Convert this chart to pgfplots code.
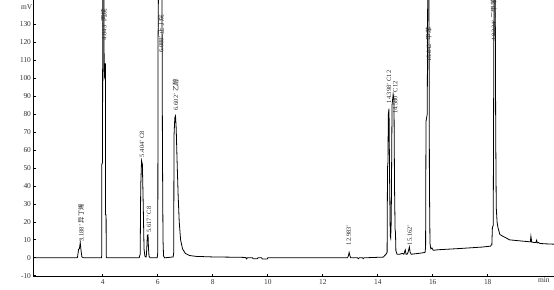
\documentclass[border=0pt]{standalone}
\usepackage{pgfplots}
\pgfplotsset{compat=1.18}
\usepackage{fontspec}
\setmainfont{Liberation Serif}
\newfontfamily\cjk{Noto Sans CJK SC}
\newcommand{\pk}[3]{\node[rotate=90,anchor=west,font=\fontsize{6.5}{7}\selectfont,text=black!85,inner sep=0pt] at (axis cs:#1,#2) {#3};}
\begin{document}
\begin{tikzpicture}
\useasboundingbox (-33.5bp,-13.3bp) rectangle (520.5bp,276.7bp);
\begin{axis}[
  at={(0,0)}, anchor=south west,
  scale only axis, width=520.5bp, height=276.7bp,
  xmin=1.48, xmax=20.41, ymin=-10.5, ymax=143.5,
  axis x line=bottom, axis y line=left,
  axis line style={-, line width=1pt},
  tick align=inside, major tick length=3bp,
  tick style={line width=0.8pt, black},
  xtick={4,6,...,18}, ytick={-10,0,...,130},
  /pgf/number format/assume math mode=true,
  ticklabel style={font=\fontsize{7.5}{8}\selectfont, text=black!80},
  xticklabel style={yshift=1bp},
  yticklabel style={xshift=1bp},
  clip mode=individual,
]
\addplot[black, line width=0.8pt] coordinates {
(1.48,0) (3.05,0) (3.08,0.3) (3.12,4.8) (3.15,5) (3.18,8.5) (3.21,4) (3.24,0.5) (3.3,0)
(3.95,0) (3.96,1) (3.965,52) (3.99,53) (4.00,160) (4.04,160) (4.05,100) (4.07,101) (4.08,108) (4.095,108) (4.10,24) (4.12,24) (4.125,0.5) (4.15,0)
(5.32,0) (5.36,2) (5.38,40) (5.41,54) (5.44,52) (5.47,30) (5.50,5) (5.53,1) (5.56,0.5)
(5.58,0.5) (5.60,5) (5.62,12.5) (5.645,12.8) (5.66,6) (5.68,1) (5.72,0)
(5.98,0) (6.00,3) (6.01,120) (6.03,160) (6.15,160) (6.17,60) (6.19,10) (6.21,1) (6.25,0)
(6.56,0.5) (6.58,3) (6.59,68) (6.62,78) (6.645,79) (6.67,72) (6.70,55) (6.74,35) (6.78,20) (6.83,10) (6.90,5) (7.0,2.5) (7.15,1.3) (7.4,0.8) (8,0.5) (9,0.3)
(9.20,0.2) (9.22,-0.6) (9.26,0) (9.45,0) (9.47,-0.5) (9.62,-0.5) (9.64,0) (9.78,0) (9.80,-0.7) (9.98,-0.7) (10.0,0)
(12.9,0) (12.93,1) (12.96,3) (12.99,1) (13.02,0) (13.27,0) (13.29,-0.5) (13.33,0) (13.45,0) (13.47,-0.5) (13.5,0)
(14.2,0.4) (14.30,2) (14.34,3) (14.355,50) (14.37,53) (14.385,80) (14.41,83) (14.43,45) (14.455,12) (14.47,11) (14.49,20) (14.52,85) (14.56,91) (14.59,88) (14.61,40) (14.63,16) (14.645,14) (14.66,4) (14.70,2) (14.8,2) (14.9,2.5) (14.95,2)
(15.0,4.4) (15.03,2) (15.07,2) (15.10,3) (15.15,6) (15.18,3) (15.22,2) (15.5,2.5) (15.72,3)
(15.74,6) (15.755,76) (15.80,80) (15.82,160) (15.86,160) (15.88,40) (15.90,8) (15.93,5) (15.97,5.5) (16.02,4.2) (16.2,4.5) (17,5.2) (17.8,6) (18.1,6.5)
(18.15,7.5) (18.17,17) (18.20,18) (18.23,160) (18.27,160) (18.29,69) (18.31,28) (18.34,20) (18.37,17) (18.44,13) (18.55,12) (18.8,10) (19.2,9.4) (19.55,8.9) (19.57,12) (19.60,8.7) (19.75,8.5) (19.78,9.8) (19.80,8.3) (19.85,8.5) (19.9,8) (20.1,7.8) (20.41,7.6)
};
\pk{3.21}{9}{3.188' {\cjk 异丁烯}}
\pk{4.04}{121}{4.043' {\cjk 丙烷}}
\pk{5.43}{56}{5.404' C8}
\pk{5.68}{14}{5.617' C8}
\pk{6.11}{114}{6.088' {\cjk 正丁烷}}
\pk{6.65}{82}{6.602' {\cjk 乙醇}}
\pk{12.95}{7}{12.983'}
\pk{14.41}{86}{14.398' C12}
\pk{14.64}{80}{14.580' C12}
\pk{15.16}{7}{15.162'}
\pk{15.85}{109}{15.842' {\cjk 甲苯}}
\pk{18.22}{121}{18.224' {\cjk 二甲苯}}
\node[anchor=east, font=\fontsize{7.5}{8}\selectfont, text=black!80, inner sep=1bp] at (axis cs:1.48,139.8) {mV};
\node[anchor=north, font=\fontsize{7.5}{8}\selectfont, text=black!80, inner sep=1bp] at (axis cs:20.04,-10.5) {min};
\end{axis}
\end{tikzpicture}
\end{document}
